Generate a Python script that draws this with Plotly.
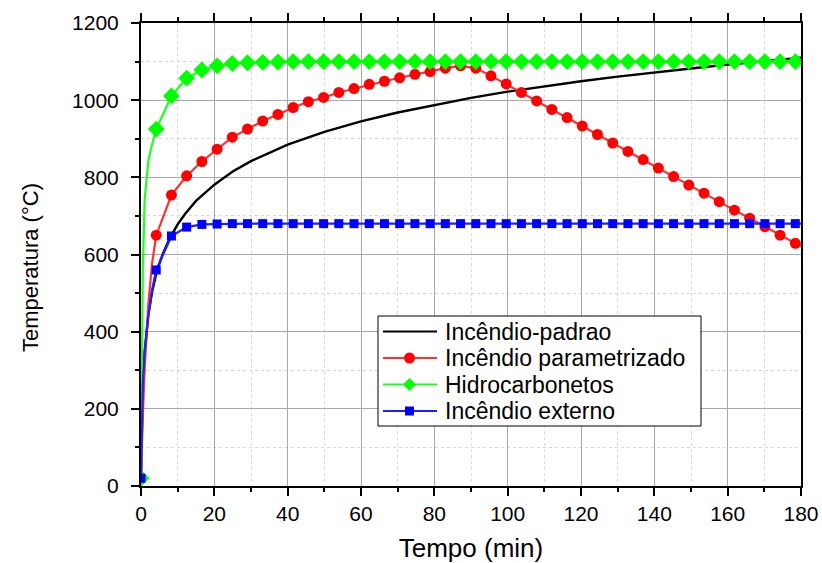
import plotly.graph_objects as go

# ---- data ----
# marker times (min), shared by the three marked series
t_marks = [0, 4.15, 8.3, 12.45, 16.6, 20.75, 24.9, 29.05, 33.2, 37.35, 41.5, 45.65,
           49.8, 53.95, 58.1, 62.25, 66.4, 70.55, 74.7, 78.85, 83.0, 87.15, 91.3,
           95.45, 99.6, 103.75, 107.9, 112.05, 116.2, 120.35, 124.5, 128.65, 132.8,
           136.95, 141.1, 145.25, 149.4, 153.55, 157.7, 161.85, 166.0, 170.15,
           174.3, 178.45]

param_vals = [20, 650, 754, 804, 841, 873, 904, 925, 946, 963, 981, 996, 1007, 1020,
              1030, 1041, 1049, 1058, 1067, 1074, 1083, 1089, 1083, 1063, 1042, 1020,
              998, 976, 955, 933, 911, 889, 867, 846, 824, 802, 780, 759, 737, 715,
              694, 672, 650, 629]

hidro_vals = [20, 925, 1011, 1057, 1078, 1089, 1095, 1097, 1098, 1099] + [1100] * 34

ext_vals = [20, 560, 648, 671, 678, 679] + [680] * 38

# early (steep) part of each curve, before the first marker
t_early = [0.25, 0.5, 1, 2, 3]
param_early = [110, 185, 305, 470, 575]
hidro_early = [373, 568, 743, 843, 885]
ext_early = [170, 263, 346, 441, 506]

# tail point of each line at the right edge
t_end = 180
param_end = 621
hidro_end = 1100
ext_end = 680

# standard fire curve (no markers)
t_std = [0, 0.25, 0.5, 1, 2, 3, 4, 5, 6, 8, 10, 12, 15, 20, 25, 30, 40, 50, 60, 70,
         80, 90, 100, 110, 120, 130, 140, 150, 160, 170, 180]
std_vals = [20, 173, 261, 349, 445, 502, 544, 576, 603, 645, 678, 705, 739, 781, 815,
            842, 885, 918, 945, 968, 988, 1006, 1022, 1036, 1049, 1061, 1072, 1082,
            1092, 1101, 1110]

names = ["Incêndio-padrao", "Incêndio parametrizado", "Hidrocarbonetos", "Incêndio externo"]
colors = ["#000000", "#FF0000", "#00FF00", "#0000FF"]
line_colors = ["#000000", "#FF3030", "#20FF20", "#2020FF"]
symbols = [None, "circle", "diamond", "square"]
sizes = [0, 11, 13, 9]

# ---- layout geometry (pixels) ----
W, H = 822, 563
ML, MR, MT, MB = 141, 21, 23, 77
PW, PH = W - ML - MR, H - MT - MB

def px_x(p):
    return (p - ML) / PW

def px_y(p):
    return (H - MB - p) / PH

def line_xy(vals, early, end):
    xs = [t_marks[0]] + t_early + t_marks[1:] + [t_end]
    ys = [vals[0]] + early + vals[1:] + [end]
    return xs, ys

fig = go.Figure()

# standard curve
fig.add_trace(go.Scatter(x=t_std, y=std_vals, mode="lines", name=names[0],
                         showlegend=False, line=dict(color=colors[0], width=2.4)))

series = [(param_vals, param_early, param_end),
          (hidro_vals, hidro_early, hidro_end),
          (ext_vals, ext_early, ext_end)]
for i, (vals, early, end) in enumerate(series, start=1):
    xs, ys = line_xy(vals, early, end)
    fig.add_trace(go.Scatter(x=xs, y=ys, mode="lines", showlegend=False,
                             line=dict(color=line_colors[i], width=2.2), hoverinfo="skip"))
    fig.add_trace(go.Scatter(x=t_marks, y=vals, mode="markers", name=names[i],
                             showlegend=False,
                             marker=dict(symbol=symbols[i], size=sizes[i], color=colors[i])))

# ---- hand-drawn legend box (to match the reference's compact spacing) ----
shapes = []
annotations = []
box = dict(x0=378, x1=701, y0=316, y1=426)
shapes.append(dict(type="rect", xref="paper", yref="paper",
                   x0=px_x(box["x0"]), x1=px_x(box["x1"]),
                   y0=px_y(box["y1"]), y1=px_y(box["y0"]),
                   line=dict(color="black", width=1), fillcolor="white", layer="above"))
row_y = [331.5, 358, 384.5, 411]
for i, name in enumerate(names):
    yy = px_y(row_y[i])
    shapes.append(dict(type="line", xref="paper", yref="paper",
                       x0=px_x(383), x1=px_x(437), y0=yy, y1=yy,
                       line=dict(color=line_colors[i], width=2.2), layer="above"))
    xa = px_x(409.5)
    if symbols[i] == "circle":
        r = sizes[i] / 2
        shapes.append(dict(type="circle", xref="paper", yref="paper",
                           xsizemode="pixel", ysizemode="pixel", xanchor=xa, yanchor=yy,
                           x0=-r, x1=r, y0=-r, y1=r, fillcolor=colors[i],
                           line=dict(width=0), layer="above"))
    elif symbols[i] == "square":
        r = sizes[i] / 2
        shapes.append(dict(type="rect", xref="paper", yref="paper",
                           xsizemode="pixel", ysizemode="pixel", xanchor=xa, yanchor=yy,
                           x0=-r, x1=r, y0=-r, y1=r, fillcolor=colors[i],
                           line=dict(width=0), layer="above"))
    elif symbols[i] == "diamond":
        r = sizes[i] / 2
        shapes.append(dict(type="path", xref="paper", yref="paper",
                           xsizemode="pixel", ysizemode="pixel", xanchor=xa, yanchor=yy,
                           path=f"M {-r} 0 L 0 {r} L {r} 0 L 0 {-r} Z",
                           fillcolor=colors[i], line=dict(width=0), layer="above"))
    annotations.append(dict(text=name, xref="paper", yref="paper",
                            x=px_x(443), y=yy, xanchor="left", yanchor="middle",
                            showarrow=False, font=dict(size=23, color="black")))

# y-axis title (placed as in the reference, slightly below the plot centre)
annotations.append(dict(text="Temperatura (°C)", xref="paper", yref="paper",
                        x=px_x(30), y=px_y(268), xanchor="center", yanchor="middle",
                        textangle=-90, showarrow=False, font=dict(size=22, color="black")))

font_family = "Liberation Sans, Arial, sans-serif"

fig.update_layout(
    width=W, height=H,
    margin=dict(l=ML, r=MR, t=MT, b=MB, autoexpand=False),
    paper_bgcolor="white", plot_bgcolor="white",
    font=dict(family=font_family, size=20, color="black"),
    showlegend=False,
    shapes=shapes, annotations=annotations,
)

fig.update_xaxes(
    range=[0, 180], dtick=20, tick0=0, automargin=False,
    showline=True, linecolor="black", linewidth=2, mirror="ticks",
    ticks="outside", ticklen=8, tickwidth=2, tickcolor="black",
    showgrid=True, gridcolor="#a8a8a8", gridwidth=1,
    zeroline=False,
    minor=dict(dtick=10, ticks="outside", ticklen=4, tickwidth=1.5, tickcolor="black",
               showgrid=True, gridcolor="#d8d8d8", griddash="dot", gridwidth=1),
    title=dict(text="Tempo (min)", font=dict(size=26), standoff=16),
    tickfont=dict(size=21),
)
fig.update_yaxes(
    range=[0, 1200], dtick=200, tick0=0, automargin=False,
    showline=True, linecolor="black", linewidth=2, mirror=True,
    ticks="outside", ticklen=8, tickwidth=2, tickcolor="black",
    showgrid=True, gridcolor="#a8a8a8", gridwidth=1,
    zeroline=False, ticklabelstandoff=8,
    minor=dict(dtick=100, ticks="outside", ticklen=4, tickwidth=1.5, tickcolor="black",
               showgrid=True, gridcolor="#d8d8d8", griddash="dot", gridwidth=1),
    tickfont=dict(size=21),
)

fig.write_html("out.html", config={"displayModeBar": False},
               post_script="document.body.style.margin='0';document.body.style.padding='0';")
